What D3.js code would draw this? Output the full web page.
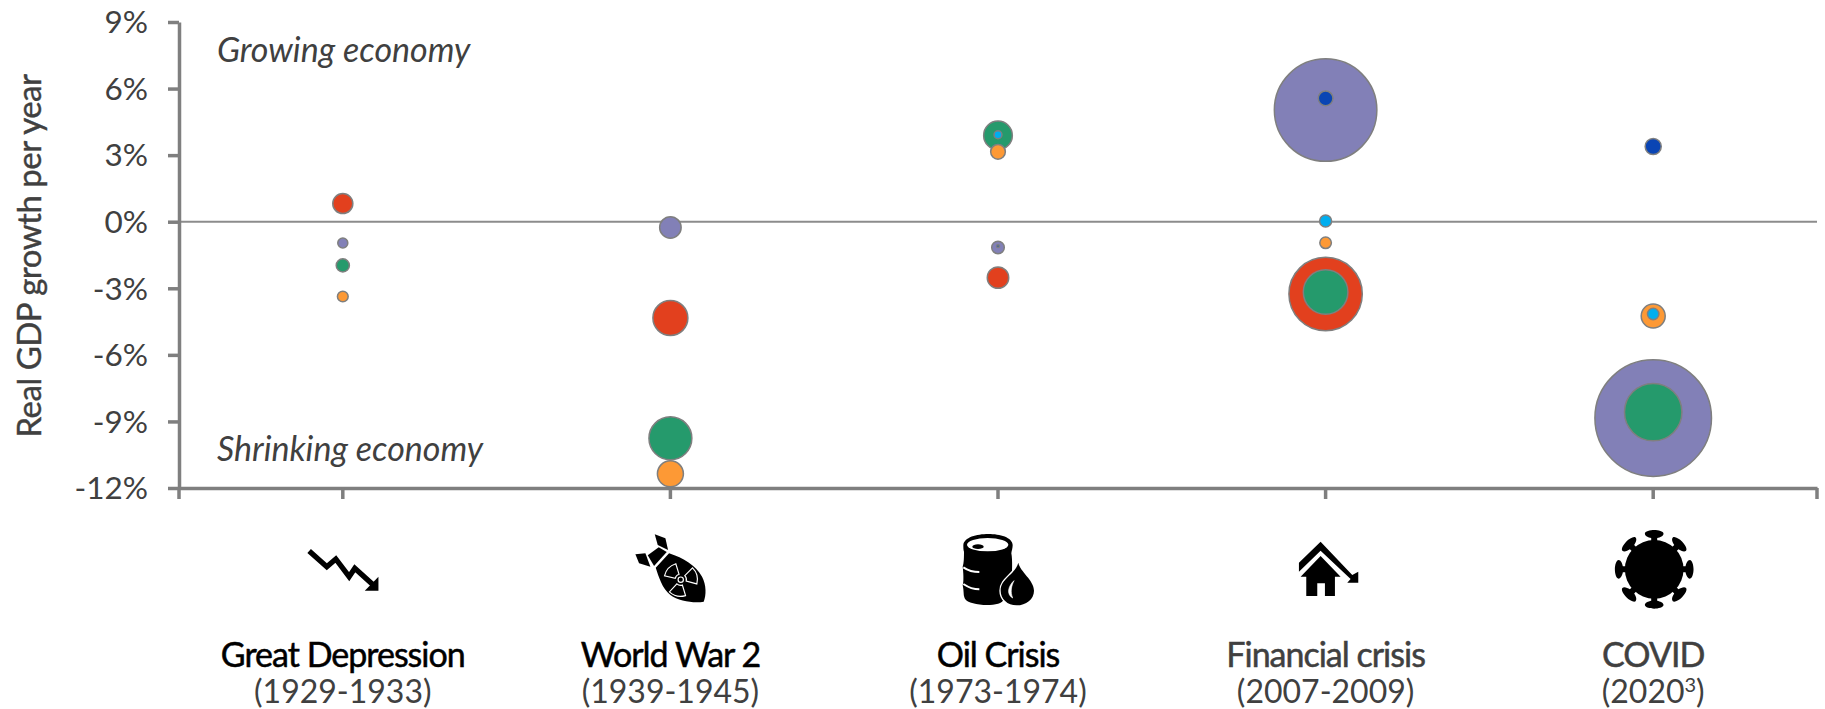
<!DOCTYPE html>
<html>
<head>
<meta charset="utf-8">
<script src="https://cdn.jsdelivr.net/npm/d3@7"></script>
<style>
  html, body { margin: 0; background: #fff; }
  svg { display: block; }
  text { font-family: Lato, "Open Sans", sans-serif; }
  .domain, .tick line { stroke: #7f7f7f; stroke-width: 3.5; }
</style>
</head>
<body>
<svg id="chart" width="1825" height="709"></svg>
<script>
// Crisis episodes along the horizontal axis
const categories = ["Great Depression", "World War 2", "Oil Crisis", "Financial crisis", "COVID"];
const periods = ["(1929-1933)", "(1939-1945)", "(1973-1974)", "(2007-2009)", "(2020"];
const periodNotes = ["", "", "", "", "3"];
const nameColors = ["#000000", "#000000", "#000000", "#404040", "#404040"];
const yTicks = [9, 6, 3, 0, -3, -6, -9, -12];

// Real GDP growth per year (%), one list per region, null where there is no bubble
const purpleGrowth = [-0.96, -0.26, -1.16, 5.03, -8.85];
const redGrowth = [0.82, -4.34, -2.52, -3.26, null];
const greenGrowth = [-1.97, -9.76, 3.89, -3.17, -8.58];
const orangeGrowth = [-3.37, -11.36, 3.15, -0.95, -4.25];
const cyanGrowth = [null, null, 3.92, 0.03, -4.16];
const blueGrowth = [null, null, -1.1, 5.56, 3.39];

// Bubble magnitudes on a 0-100 scale, area proportional to the value
const purpleSize = [0.7, 3.2, 1.1, 73, 94.4];
const redSize = [2.8, 8.5, 3.2, 37.4, null];
const greenSize = [1.2, 12.8, 5.7, 13.8, 22.9];
const orangeSize = [0.8, 4.7, 1.5, 0.93, 4];
const cyanSize = [null, null, 0.44, 1, 0.9];
const blueSize = [null, null, 0.06, 1.5, 1.8];

const seriesColors = ["#8280b7", "#e2401e", "#259a6c", "#fd9935", "#00aeef", "#0a45b4"];
const seriesGrowth = [purpleGrowth, redGrowth, greenGrowth, orangeGrowth, cyanGrowth, blueGrowth];
const seriesSize = [purpleSize, redSize, greenSize, orangeSize, cyanSize, blueSize];

const svg = d3.select("#chart");
const plotLeft = 179, plotRight = 1817, plotTop = 22, plotBottom = 488;

const x = d3.scaleBand().domain(categories).range([plotLeft, plotRight]);
const y = d3.scaleLinear().domain([-12, 9]).range([plotBottom, plotTop]);
const r = d3.scaleSqrt().domain([0, 100]).range([0, 60]);

// Zero growth reference line
svg.append("line")
  .attr("x1", plotLeft).attr("x2", plotRight)
  .attr("y1", y(0)).attr("y2", y(0))
  .attr("stroke", "#8c8c8c").attr("stroke-width", 2);

// Axes
const yAxis = svg.append("g")
  .attr("transform", `translate(${plotLeft},0)`)
  .call(d3.axisLeft(y).tickValues(yTicks).tickSize(11).tickSizeOuter(0).tickFormat(d => d + "%"));
yAxis.selectAll("text")
  .attr("x", -31).attr("dy", "0.34em")
  .attr("font-size", 31.5).attr("fill", "#404040").style("font-family", "Lato");

const xAxis = svg.append("g")
  .attr("transform", `translate(0,${plotBottom})`)
  .call(d3.axisBottom(x).tickSize(11).tickSizeOuter(0).tickFormat(""));
x.range().forEach(edge => {
  xAxis.append("line").attr("x1", edge).attr("x2", edge).attr("y1", 0).attr("y2", 11)
    .attr("stroke", "#7f7f7f").attr("stroke-width", 3.5);
});

// Bubbles, largest first so that small ones stay visible on top
const bubbles = [];
categories.forEach((c, i) => {
  seriesGrowth.forEach((values, s) => {
    if (values[i] !== null) {
      bubbles.push({ category: c, growth: values[i], size: seriesSize[s][i], color: seriesColors[s] });
    }
  });
});
svg.append("g").selectAll("circle")
  .data(bubbles.sort((a, b) => d3.descending(a.size, b.size)))
  .join("circle")
  .attr("cx", d => x(d.category) + x.bandwidth() / 2)
  .attr("cy", d => y(d.growth))
  .attr("r", d => r(d.size))
  .attr("fill", d => d.color)
  .attr("stroke", "#7f7f7f")
  .attr("stroke-width", 1.5);

// Axis title and region annotations
svg.append("text")
  .attr("transform", `translate(41,256) rotate(-90)`)
  .attr("text-anchor", "middle")
  .attr("font-size", 33).attr("fill", "#404040")
  .attr("stroke", "#404040").attr("stroke-width", 0.4)
  .attr("letter-spacing", -0.5)
  .text("Real GDP growth per year");

svg.append("text").attr("x", 217).attr("y", 62)
  .attr("font-size", 34).attr("font-style", "italic").attr("fill", "#404040")
  .text("Growing economy");
svg.append("text").attr("x", 217).attr("y", 461)
  .attr("font-size", 34).attr("font-style", "italic").attr("fill", "#404040")
  .text("Shrinking economy");

// Category captions
const captions = svg.append("g").selectAll("g").data(categories).join("g")
  .attr("transform", d => `translate(${x(d) + x.bandwidth() / 2},0)`)
  .attr("text-anchor", "middle");
captions.append("text").attr("y", 667)
  .attr("font-size", 34)
  .attr("letter-spacing", -1)
  .attr("fill", (d, i) => nameColors[i])
  .attr("stroke", (d, i) => nameColors[i]).attr("stroke-width", 0.5)
  .text(d => d);
const periodText = captions.append("text").attr("y", 703)
  .attr("font-size", 32).attr("fill", "#404040");
periodText.append("tspan").text((d, i) => periods[i]);
periodText.filter((d, i) => periodNotes[i] !== "").each(function (d) {
  const i = categories.indexOf(d);
  const t = d3.select(this);
  t.append("tspan").attr("font-size", 20).attr("dy", -11).text(periodNotes[i]);
  t.append("tspan").attr("dy", 11).text(")");
});

// Pictograms above each caption, drawn on a 3x grid
const icons = svg.append("g").selectAll("g").data(categories).join("g")
  .attr("transform", d => `translate(${x(d) + x.bandwidth() / 2},0)`);

function place(sel, dx, yTop) {
  return sel.append("g").attr("transform", `translate(${dx},${yTop}) scale(${1 / 3})`);
}

// Falling market line
const drop = place(icons.filter((d, i) => i === 0), -42, 535);
drop.append("path").attr("d", "M25,48L78,95L105,72L145,125L162,100L215,148")
  .attr("fill", "none").attr("stroke", "#000").attr("stroke-width", 16);
drop.append("path").attr("d", "M233,125V167H192Z").attr("fill", "#000");

// Bomb with radiation trefoil
const bomb = place(icons.filter((d, i) => i === 1), -50, 520);
bomb.append("path").attr("d", "M103,43L135,55L143,90L112,75Z").attr("fill", "#000");
bomb.append("path").attr("d", "M45,103L75,100L90,140L56,130Z").attr("fill", "#000");
bomb.append("path").attr("d", "M115,82L139,96L101,138L82,106Z").attr("fill", "#000");
bomb.append("path").attr("d", "M106,143L146,100C190,115 225,135 245,170C258,195 258,225 250,245C225,250 175,245 150,225C125,205 115,170 106,143Z").attr("fill", "#000");
const trefoil = bomb.append("g").attr("transform", "translate(181,179)");
trefoil.append("circle").attr("r", 8).attr("fill", "none").attr("stroke", "#fff").attr("stroke-width", 3.5);
const blade = d3.arc().innerRadius(17).outerRadius(50);
[-47, 75, 193].forEach(a => {
  const c = a * Math.PI / 180;
  trefoil.append("path")
    .attr("d", blade({ startAngle: c - 0.52, endAngle: c + 0.52 }))
    .attr("fill", "none").attr("stroke", "#fff").attr("stroke-width", 3.5);
});

// Oil barrel with droplet
const oil = place(icons.filter((d, i) => i === 2), -48, 520);
oil.append("path")
  .attr("d", "M40,75C42,52 80,42 115,42C150,42 187,52 188,75C188,85 185,92 184,100C188,120 186,160 185,180L160,240C158,250 130,257 100,255C70,253 45,245 43,232C40,225 42,212 38,195C42,185 40,155 38,140C42,130 42,110 42,95C40,90 40,82 40,75Z")
  .attr("fill", "#000");
oil.append("ellipse").attr("cx", 113).attr("cy", 74).attr("rx", 62).attr("ry", 20).attr("fill", "#fff");
oil.append("ellipse").attr("cx", 84).attr("cy", 80).attr("rx", 17).attr("ry", 7).attr("fill", "#000");
oil.append("path").attr("d", "M40,142C55,152 72,156 88,156M40,192C55,202 72,208 88,208")
  .attr("fill", "none").attr("stroke", "#fff").attr("stroke-width", 6);
oil.append("path")
  .attr("d", "M205,128C210,155 252,180 252,212C252,238 228,256 200,256C172,256 152,236 152,212C152,175 195,165 205,128Z")
  .attr("fill", "#000").attr("stroke", "#fff").attr("stroke-width", 8).attr("paint-order", "stroke");
oil.append("path").attr("d", "M192,182C175,198 168,222 188,234C180,215 184,198 192,182Z")
  .attr("fill", "#fff").attr("stroke", "#fff").attr("stroke-width", 2);

// House under a falling arrow
const house = place(icons.filter((d, i) => i === 3), -40, 530);
house.append("path").attr("d", "M40,98L105,35L200,135L218,125V158H185L195,147L105,62L40,125Z").attr("fill", "#000");
house.append("path").attr("d", "M105,78L165,140H148V198H118V160H95V198H62V140H45Z").attr("fill", "#000");

// Coronavirus particle
const virus = place(icons.filter((d, i) => i === 4), -53, 520);
const virusBody = virus.append("g").attr("transform", "translate(162,148)");
virusBody.append("circle").attr("r", 88).attr("fill", "#000");
d3.range(8).forEach(k => {
  virusBody.append("path")
    .attr("transform", `rotate(${k * 45})`)
    .attr("d", "M-9,-80L-9,-94C-18,-96 -28,-100 -28,-107C-28,-114 -12,-118 0,-118C12,-118 28,-114 28,-107C28,-100 18,-96 9,-94L9,-80Z")
    .attr("fill", "#000");
});
</script>
</body>
</html>
